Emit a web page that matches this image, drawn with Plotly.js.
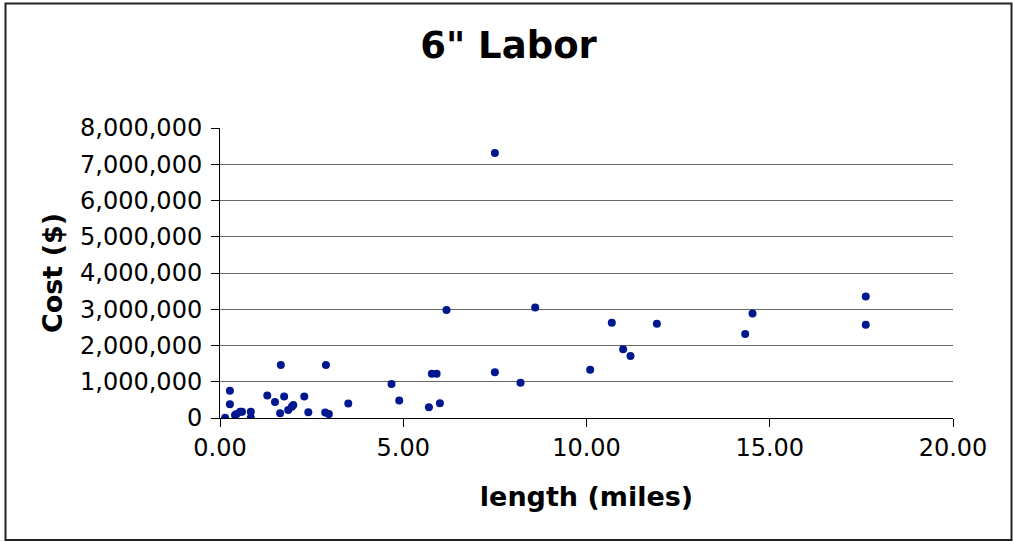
<!DOCTYPE html>
<html>
<head>
<meta charset="utf-8">
<script src="https://cdn.plot.ly/plotly-3.0.1.min.js"></script>
<style>
  html, body { margin: 0; padding: 0; background: #fff; }
  #chart { width: 1013px; height: 542px; }
</style>
</head>
<body>
<div id="chart"></div>
<script>
// length (miles)
const lengthMiles = [
  0.14, 0.27, 0.27, 0.41, 0.45, 0.55, 0.60, 0.84, 0.84,
  1.29, 1.50, 1.64, 1.66, 1.75, 1.86, 1.96, 2.00, 2.30, 2.41,
  2.87, 2.89, 2.97, 3.50, 4.68, 4.89, 5.70, 5.78, 5.91, 6.00,
  6.18, 7.50, 7.50, 8.20, 8.60, 10.10, 10.69, 11.00, 11.20,
  11.92, 14.33, 14.53, 17.62, 17.62
];
// Cost ($)
const costDollars = [
  10000, 750000, 380000, 80000, 110000, 170000, 170000, 170000, 10000,
  620000, 440000, 130000, 1460000, 590000, 220000, 310000, 360000, 590000, 160000,
  150000, 1460000, 110000, 400000, 940000, 480000, 300000, 1220000, 1220000, 410000,
  2980000, 1260000, 7310000, 970000, 3050000, 1330000, 2630000, 1900000, 1710000,
  2600000, 2320000, 2880000, 3350000, 2570000
];
const chartTitle = '6" Labor';
const xTitle = 'length (miles)';
const yTitle = 'Cost ($)';

const font = 'DejaVu Sans, Verdana, sans-serif';

const trace = {
  type: 'scatter',
  mode: 'markers',
  x: lengthMiles,
  y: costDollars,
  marker: { color: '#00188f', size: 8 },
  hoverinfo: 'x+y',
  showlegend: false
};

const layout = {
  width: 1013,
  height: 542,
  margin: { l: 220, r: 60, t: 128, b: 124, pad: 0 },
  paper_bgcolor: '#ffffff',
  plot_bgcolor: '#ffffff',
  font: { family: font, color: '#000000', size: 24 },
  title: {
    text: '<b>' + chartTitle + '</b>',
    font: { family: font, size: 37, color: '#000' },
    x: 0.502, xref: 'container', xanchor: 'center',
    y: 0.917, yref: 'container', yanchor: 'middle'
  },
  xaxis: {
    range: [0, 20],
    dtick: 5,
    tick0: 0,
    tickformat: '.2f',
    showgrid: false,
    zeroline: false,
    showline: true,
    linecolor: '#000',
    linewidth: 1,
    ticks: 'outside',
    ticklen: 8,
    tickcolor: '#000',
    tickfont: { family: font, size: 24, color: '#000' },
    title: { text: '<b>' + xTitle + '</b>', font: { family: font, size: 27, color: '#000' }, standoff: 26 },
    fixedrange: true
  },
  yaxis: {
    range: [0, 8000000],
    dtick: 1000000,
    tick0: 0,
    tickformat: ',d',
    showgrid: true,
    gridcolor: '#666666',
    gridwidth: 1,
    zeroline: false,
    showline: true,
    linecolor: '#000',
    linewidth: 1,
    ticks: 'outside',
    ticklen: 8,
    tickcolor: '#000',
    ticklabelstandoff: 4,
    tickfont: { family: font, size: 24, color: '#000' },
    title: { text: '<b>' + yTitle + '</b>', font: { family: font, size: 27, color: '#000' }, standoff: 9 },
    fixedrange: true
  },
  shapes: [{
    type: 'rect',
    xref: 'paper', yref: 'paper',
    x0: (5.5 - 220) / 733, x1: (1011.5 - 220) / 733,
    y0: (418 - 540) / 290, y1: (418 - 3.5) / 290,
    line: { color: '#222', width: 2 },
    fillcolor: 'rgba(0,0,0,0)',
    layer: 'below'
  }]
};

Plotly.newPlot('chart', [trace], layout, { displayModeBar: false, staticPlot: true });
</script>
</body>
</html>
